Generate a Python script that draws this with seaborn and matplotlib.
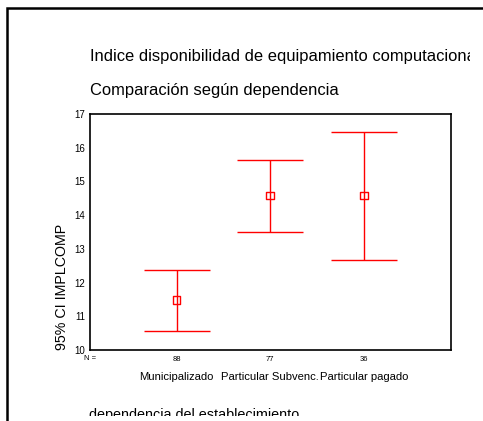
import numpy as np
import pandas as pd
import seaborn as sns
import matplotlib.pyplot as plt
from matplotlib.patches import Rectangle
from matplotlib.transforms import blended_transform_factory

# Values
categories = ['Municipalizado', 'Particular Subvenc.', 'Particular pagado']
n_counts = [88, 77, 36]
means = [11.48, 14.58, 14.58]
ci_low = [10.57, 13.50, 12.68]
ci_high = [12.37, 15.64, 16.47]

df = pd.DataFrame({'dep': categories, 'mean': means, 'low': ci_low, 'high': ci_high, 'n': n_counts})
df['pos'] = range(len(df))

sns.set_style('white')
plt.rcParams['font.family'] = ['Liberation Sans', 'DejaVu Sans']
plt.rcParams['text.color'] = 'black'
plt.rcParams['xtick.color'] = 'black'
plt.rcParams['ytick.color'] = 'black'

fig = plt.figure(figsize=(4.83, 4.21), dpi=100)
ax = fig.add_axes([0.1857, 0.1686, 0.7474, 0.5606])

# error bars (95% CI)
ax.errorbar(df['pos'], df['mean'],
            yerr=[df['mean'] - df['low'], df['high'] - df['mean']],
            fmt='none', ecolor='#ff0000', elinewidth=1.0, capsize=23.5, capthick=1.0, zorder=2)
sns.scatterplot(data=df, x='pos', y='mean', ax=ax, marker='s', s=30,
                facecolor='none', edgecolor='#ff0000', linewidth=1.0, zorder=3)

ax.set_xlim(-0.93, 2.93)
ax.set_ylim(10, 17)
ax.set_yticks(range(10, 18))
ax.set_yticklabels([str(v) for v in range(10, 18)], fontsize=7)
ax.set_xticks(df['pos'])
ax.set_xticklabels([str(n) for n in n_counts], fontsize=5.5)
ax.tick_params(axis='both', direction='out', length=2, width=1.5, pad=2, color='black')
ax.tick_params(axis='y', pad=1)
for sp in ax.spines.values():
    sp.set_linewidth(1.2)
    sp.set_color('black')
ax.set_xlabel('')
ax.set_ylabel('')

trans = blended_transform_factory(ax.transData, fig.transFigure)
ax.text(-0.93, 1 - 358 / 421, 'N =', transform=trans, fontsize=5.5, ha='center', va='center')
for i, c in enumerate(categories):
    ax.text(i, 1 - 377 / 421, c, transform=trans, fontsize=8.1, ha='center', va='center')

fig.text(62 / 483, 1 - 287 / 421, '95% CI IMPLCOMP', rotation=90, fontsize=10.3,
         ha='center', va='center')

# overlay for titles (clipped on the right/bottom like the original)
ov = fig.add_axes([0, 5 / 421, 470 / 483, 416 / 421])
ov.set_axis_off()
ov.set_xlim(0, 470)
ov.set_ylim(416, 0)
ov.text(90, 57, 'Indice disponibilidad de equipamiento computacional', fontsize=11.85,
        ha='left', va='center', clip_on=True)
ov.text(90, 91, 'Comparación según dependencia', fontsize=11.85, ha='left', va='center', clip_on=True)
ov.text(89, 418.5, 'dependencia del establecimiento', fontsize=10.4,
        ha='left', va='baseline', clip_on=True)

# outer frame
fig.patches.append(Rectangle((7 / 483, -0.1), 1.2, 1 - 8 / 421 + 0.1, transform=fig.transFigure,
                             fill=False, edgecolor='black', linewidth=1.8))

fig.savefig('out.png', dpi=100)
